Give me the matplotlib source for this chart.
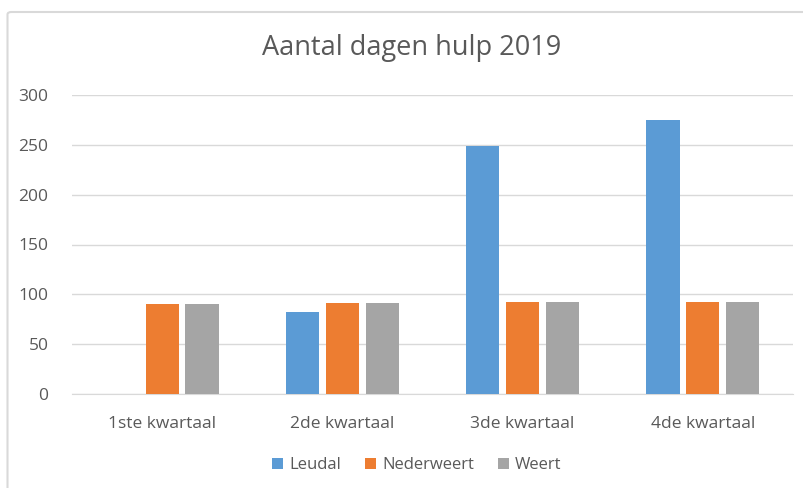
import matplotlib
matplotlib.use("Agg")
import matplotlib.pyplot as plt
from matplotlib.patches import FancyBboxPatch
import numpy as np

categories = ["1ste kwartaal", "2de kwartaal", "3de kwartaal", "4de kwartaal"]
series_names = ["Leudal", "Nederweert", "Weert"]
leudal = [0, 82, 249, 275]
nederweert = [90, 91, 92, 92]
weert = [90, 91, 92, 92]
colors = ["#5B9BD5", "#ED7D31", "#A5A5A5"]
yticks = [0, 50, 100, 150, 200, 250, 300]

plt.rcParams['font.family'] = ['Open Sans', 'DejaVu Sans']
text_color = "#595959"

fig = plt.figure(figsize=(8.04, 4.88), dpi=100)
# chart border
border = FancyBboxPatch((7.5/804, -0.05), 1.2, (488-12)/488 + 0.05, boxstyle="round,pad=0,rounding_size=0.005",
                        transform=fig.transFigure, facecolor="none", edgecolor="#d9d9d9",
                        linewidth=1.5, zorder=-10)
fig.patches.append(border)

ax = fig.add_axes([72/804, 1 - 394/488, (793-72)/804, (394-95)/488])
ax.patch.set_alpha(0)
x = np.arange(len(categories))
w = 0.184
step = 1.2 * w
for i, (vals, name) in enumerate(zip([leudal, nederweert, weert], series_names)):
    ax.bar(x + (i - 1) * step, vals, width=w, color=colors[i], label=name, zorder=3)

ax.set_ylim(0, 300)
ax.set_xlim(-0.5, len(categories) - 0.5)
ax.set_yticks(yticks)
ax.set_xticks(x)
ax.set_xticklabels(categories)
ax.yaxis.grid(True, color="#d9d9d9", linewidth=1, zorder=0)
ax.set_axisbelow(True)
for s in ["top", "right", "left"]:
    ax.spines[s].set_visible(False)
ax.spines["bottom"].set_color("#d9d9d9")
ax.tick_params(axis="both", length=0, colors=text_color, labelsize=12.5)
ax.tick_params(axis="y", pad=17)
ax.tick_params(axis="x", pad=16)

fig.text(412/804, 1 - 48/488, "Aantal dagen hulp 2019", ha="center", va="center",
         fontsize=19.5, color=text_color)

leg = fig.legend(loc="center", bbox_to_anchor=(417/804, 1 - 465/488), ncol=3, frameon=False,
                 fontsize=12, handlelength=0.65, handleheight=0.65, handletextpad=0.4, columnspacing=1.4)
for t in leg.get_texts():
    t.set_color(text_color)

fig.savefig("out.png", dpi=100)
